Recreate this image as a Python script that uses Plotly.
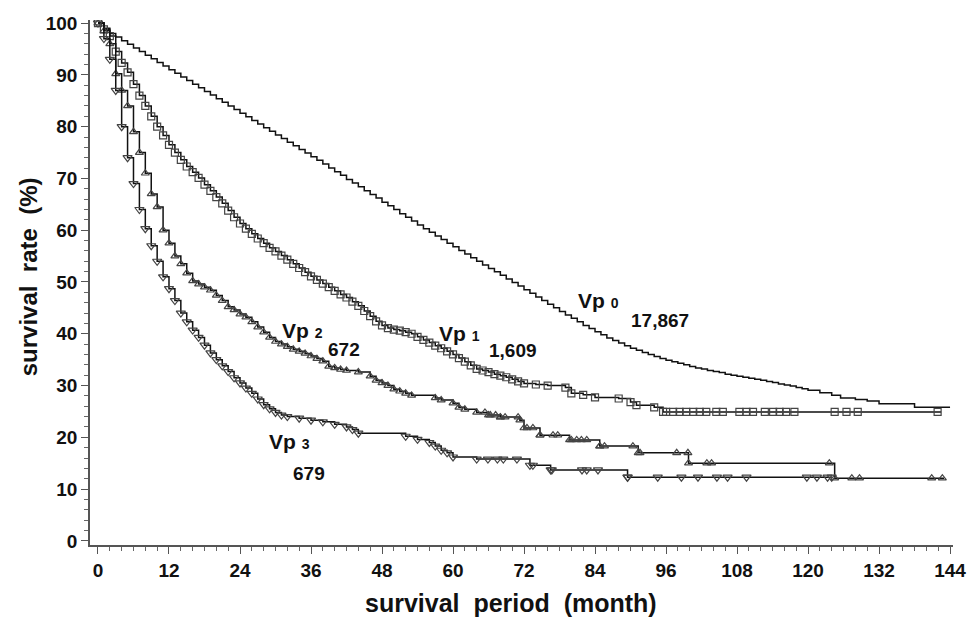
import numpy as np
import plotly.graph_objects as go

# ---------------- data ----------------
vp0_t = list(range(0, 121)) + [122, 124, 125.5, 128, 130, 132, 138, 144]
vp0_v = [100.0, 99.0, 98.0, 97.3, 96.6, 95.9, 95.2, 94.5, 93.8, 93.1,
         92.4, 91.7, 91.0, 90.3, 89.6, 88.9, 88.2, 87.5, 86.8, 86.1,
         85.4, 84.7, 84.0, 83.3, 82.6, 81.9, 81.2, 80.5, 79.8, 79.1,
         78.4, 77.7, 77.0, 76.3, 75.6, 74.9, 74.2, 73.5, 72.8, 72.0,
         71.3, 70.6, 69.8, 69.1, 68.4, 67.6, 66.9, 66.2, 65.4, 64.7,
         64.0, 63.2, 62.5, 61.8, 61.0, 60.3, 59.6, 58.9, 58.2, 57.5,
         56.8, 56.1, 55.4, 54.7, 54.0, 53.3, 52.6, 52.0, 51.3, 50.6,
         49.9, 49.2, 48.5, 47.8, 47.1, 46.4, 45.7, 45.0, 44.3, 43.6,
         43.0, 42.3, 41.6, 41.0, 40.4, 39.8, 39.2, 38.7, 38.2, 37.7,
         37.2, 36.8, 36.4, 36.0, 35.6, 35.2, 34.9, 34.6, 34.3, 34.0,
         33.7, 33.4, 33.2, 32.9, 32.7, 32.5, 32.2, 32.0, 31.8, 31.6,
         31.4, 31.2, 31.0, 30.8, 30.6, 30.3, 30.1, 29.9, 29.6, 29.4,
         29.1,
         28.6, 28.1, 27.6, 27.3, 27.0, 26.5, 25.8, 25.8]

vp1_t = list(range(0, 73)) + [74, 76, 79, 80, 82, 84, 88, 90, 91, 94, 95.5, 142.5]
vp1_v = [100, 98.8, 97.5, 94.5, 92.3, 90.5, 88.2, 86, 84, 82,
         80, 78.3, 76.5, 75, 73.6, 72.3, 71.2, 70.1, 68.8, 67.6,
         66.4, 65.2, 63.8, 62.5, 61.3, 60.3, 59.3, 58.4, 57.5, 56.6,
         55.9, 55.1, 54.3, 53.5, 52.7, 51.9, 51.1, 50.4, 49.7, 49.0,
         48.3, 47.6, 47.0, 46.2, 45.4, 44.4, 43.4, 42.4, 41.6, 41.1,
         40.8, 40.6, 40.3, 40.0, 39.4, 38.8, 38.3, 37.7, 37.2, 36.6,
         36.0, 35.3, 34.6, 33.9, 33.2, 32.9, 32.6, 32.2, 31.9, 31.6,
         31.2, 30.8, 30.4,
         30.2, 30.0, 29.6, 28.5, 28.2, 27.7, 27.5, 26.8, 26.2, 25.8, 24.9, 24.9]
vp1_cens = [96.0, 97.2, 98.3, 99.4, 100.6, 101.7, 102.8, 104.5, 105.6, 108.4,
            109.6, 110.7, 112.7, 114.1, 115.2, 116.3, 117.7, 124.5, 126.5, 128.4, 141.9]

vp2_t = list(range(0, 43)) + [44, 46, 47, 48, 49, 50, 51, 52, 53, 57, 58, 60, 61, 62, 64,
                              66, 68, 71.3, 72, 74.7, 79.7, 84.8, 91.3, 99.8, 124.5, 143]
vp2_v = [100, 98.5, 96, 90.2, 87, 84, 79, 75, 71, 67,
         64.5, 60, 57.5, 55, 53.5, 51.7, 50.2, 49.6, 49.0, 48.4,
         47.4, 46.4, 45.2, 44.6, 43.8, 43.2, 42.3, 41.3, 40.3, 39.3,
         38.5, 38.0, 37.5, 37.0, 36.6, 36.2, 35.7, 35.2, 34.7, 33.7,
         33.4, 33.1, 32.9,
         32.6, 31.8, 31.0, 30.5, 30.0, 29.3, 28.9, 28.5, 28.1, 27.6, 27.2, 26.6, 25.8, 25.4, 24.8,
         24.3, 23.9, 23.3, 21.8, 20.4, 19.5, 18.3, 17.0, 15.0, 12.1, 12.1]
vp2_cens = [65.4, 66.3, 67.2, 68.0, 68.8, 71.0, 72.5, 73.5, 74.7, 76.9, 77.7, 80.0, 80.9,
            81.7, 82.6, 84.8, 85.6, 90.4, 91.6, 97.8, 99.7, 102.9, 103.7, 123.6, 127.4,
            128.7, 140.9, 142.7]

vp3_t = list(range(0, 33)) + [34, 36, 38, 40, 42, 43, 44, 52, 54, 56, 57, 58, 59, 60, 64,
                              73, 76.5, 89.5, 124]
vp3_v = [100, 97, 93, 87, 80, 74, 69, 64, 60.3, 57,
         54, 51, 48.7, 46.4, 44, 42.3, 40.7, 39.3, 37.8, 36.3,
         35, 33.8, 32.7, 31.5, 30.5, 29.5, 28.5, 27.4, 26.3, 25.5,
         24.8, 24.3, 24.0,
         23.7, 23.3, 23.0, 22.5, 22.0, 21.5, 20.8, 20.2, 19.6, 19.0, 18.3, 17.5, 17.0, 16.2, 15.8,
         14.6, 13.7, 12.3, 12.3]
vp3_cens = [65.9, 67.5, 68.5, 70.8, 73.5, 76.7, 81.8, 82.6, 84.5, 89.5, 94.6, 98.6,
            101.4, 104.6, 106.4, 109.6, 119.8, 121.5, 123.3]

x_ticks = [0, 12, 24, 36, 48, 60, 72, 84, 96, 108, 120, 132, 144]
y_ticks = [0, 10, 20, 30, 40, 50, 60, 70, 80, 90, 100]

labels = [  # (subscript digit, n, label x, label y, n x, n y)
    ("0", "17,867", 84.6, 46.4, 94.9, 42.6),
    ("1", "1,609", 61.1, 40.1, 70.1, 36.8),
    ("2", "672", 34.5, 40.7, 41.6, 37.0),
    ("3", "679", 32.4, 19.1, 35.6, 13.1),
]

# ---------------- figure ----------------
def step_value(ts, vs, t):
    ts = np.asarray(ts, dtype=float)
    idx = np.searchsorted(ts, t, side="right") - 1
    return list(np.asarray(vs)[np.clip(idx, 0, len(vs) - 1)])

fig = go.Figure()
line_style = dict(color="#111111", width=1.5, shape="hv")
mk_col = "#444444"

series = [
    (vp1_t, vp1_v, vp1_cens, "square-open", 7, 95.5),
    (vp2_t, vp2_v, vp2_cens, "triangle-up-open", 7, 124.5),
    (vp3_t, vp3_v, vp3_cens, "triangle-down-open", 8, 124),
]

fig.add_trace(go.Scatter(x=vp0_t, y=vp0_v, mode="lines", line=line_style,
                         hoverinfo="skip", showlegend=False))
for ts, vs, cens, sym, sz, lim in series:
    fig.add_trace(go.Scatter(x=ts, y=vs, mode="lines", line=line_style,
                             hoverinfo="skip", showlegend=False))
    mx = [t for t in ts if t <= lim] + cens
    my = [v for t, v in zip(ts, vs) if t <= lim] + step_value(ts, vs, cens)
    fig.add_trace(go.Scatter(x=mx, y=my, mode="markers",
                             marker=dict(symbol=sym, size=sz, color=mk_col,
                                         line=dict(color=mk_col, width=1.2)),
                             hoverinfo="skip", showlegend=False))

font_b = "Liberation Sans, Arial, sans-serif"
ann = []
for d, n, lx, ly, nx, ny in labels:
    ann.append(dict(x=lx, y=ly, xref="x", yref="y", showarrow=False,
                    text="<b>Vp <span style='font-size:14px'>%s</span></b>" % d,
                    font=dict(family=font_b, size=21, color="#111")))
    ann.append(dict(x=nx, y=ny, xref="x", yref="y", showarrow=False,
                    text="<b>%s</b>" % n,
                    font=dict(family=font_b, size=19, color="#111")))
# axis titles
ann.append(dict(x=0.488, y=0, xref="paper", yref="paper", xanchor="center", yanchor="middle",
                yshift=-58, showarrow=False, text="<b>survival  period  (month)</b>",
                font=dict(family=font_b, size=25, color="#111")))
ann.append(dict(x=0, y=0.51, xref="paper", yref="paper", xanchor="center", yanchor="middle",
                xshift=-62, showarrow=False, textangle=-90, text="<b>survival  rate  (%)</b>",
                font=dict(family=font_b, size=24, color="#111")))
fig.update_layout(annotations=ann)

axis_common = dict(
    showgrid=False, zeroline=False, showline=True, linecolor="#555", linewidth=1.5,
    ticks="outside", tickcolor="#555", tickwidth=1.3, ticklen=7, automargin=False,
    tickfont=dict(family=font_b, size=19, color="#111", weight="bold"),
)
fig.update_xaxes(range=[-1.35, 144.5], tickvals=x_ticks,
                 minor=dict(dtick=2, ticks="outside", ticklen=4, tickcolor="#666", tickwidth=1),
                 **axis_common)
fig.update_yaxes(range=[-0.8, 100.6], tickvals=y_ticks,
                 minor=dict(dtick=2, ticks="outside", ticklen=4, tickcolor="#666", tickwidth=1),
                 **axis_common)

fig.update_layout(width=976, height=621, plot_bgcolor="white", paper_bgcolor="white",
                  margin=dict(l=90, r=23, t=20, b=76))
fig.write_html("out.html", config={"displayModeBar": False},
               post_script="document.body.style.margin='0px';document.body.style.overflow='hidden';")
